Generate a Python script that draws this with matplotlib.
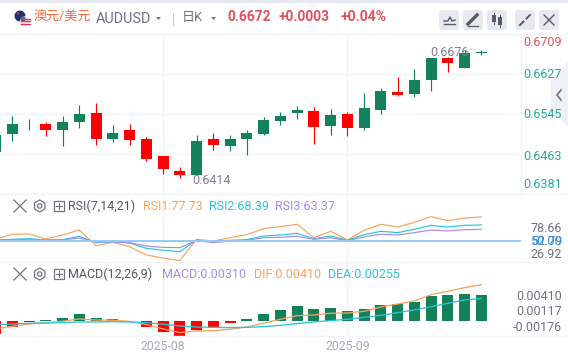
import matplotlib
matplotlib.use("Agg")
import matplotlib.pyplot as plt
from matplotlib.patches import FancyBboxPatch, Circle, Polygon, Rectangle, RegularPolygon

plt.rcParams['font.family'] = ['Roboto', 'Noto Sans CJK SC', 'DejaVu Sans']

W, H = 568, 357
# Daily candles, oldest first
opens = [.64671,.65040,.65245,.65245,.65122,.65286,.65471,.64938,.65122,.64938,.64589,.64282,.64200,.64938,.64794,.64938,.65040,.65307,.65471,.65512,.65204,.65450,.65163,.65532,.65901,.65860,.66147,.66598,.66393,.66701]
closes =[.65020,.65245,.65255,.65122,.65286,.65450,.64938,.65061,.64917,.64528,.64323,.64200,.64897,.64815,.64938,.65061,.65327,.65409,.65532,.65184,.65430,.65163,.65573,.65922,.65840,.66147,.66598,.66496,.66701,.66721]
highs = [.65061,.65409,.65348,.65286,.65409,.65635,.65676,.65225,.65245,.64979,.64589,.64364,.65020,.65061,.65020,.65122,.65389,.65491,.65614,.65594,.65553,.65491,.65881,.65983,.66209,.66373,.66598,.66619,.66762,.66762]
lows =  [.64671,.64897,.65122,.64999,.64794,.65163,.64815,.64876,.64815,.64487,.64220,.64138,.64200,.64712,.64692,.64610,.65020,.65225,.65348,.64835,.65020,.64999,.65122,.65450,.65819,.65799,.65922,.66311,.66393,.66660]

rsi1 = [51.9,57.7,58.0,52.3,56.9,62.6,44.6,48.5,43.5,33.9,30.4,27.4,51.9,50.0,53.8,57.3,64.2,66.5,69.2,53.8,61.1,51.2,62.3,69.2,66.1,71.5,78.0,73.4,76.4,77.73]
rsi2 = [51.2,51.9,52.7,51.2,51.5,55.4,48.1,49.2,47.7,41.6,39.3,37.7,51.2,48.9,50.8,51.5,55.7,56.9,58.8,52.7,55.7,50.8,57.3,61.1,59.6,63.4,68.0,66.1,68.0,68.39]
rsi3 = [51.2,51.5,51.5,50.8,51.2,53.4,48.9,49.2,48.1,44.2,42.7,42.3,50.4,48.1,50.0,50.8,53.8,54.2,55.4,51.9,53.8,50.4,54.6,57.7,56.9,59.6,62.6,61.5,63.0,63.37]

hist = [-.00143,-.00068,-.00011,.00008,.00034,.00079,.00034,.00023,.00004,-.00068,-.00125,-.00170,-.00102,-.00079,-.00023,.00023,.00079,.00125,.00170,.00136,.00147,.00113,.00136,.00181,.00192,.00215,.00283,.00294,.00306,.00296]
dif = [-.00090,-.00060,-.00034,-.00019,-.00004,.00023,.00011,.00008,-.00004,-.00041,-.00090,-.00132,-.00113,-.00109,-.00094,-.00068,-.00026,.00019,.00060,.00068,.00087,.00090,.00109,.00158,.00192,.00226,.00298,.00336,.00377,.00410]
dea = [-.00045,-.00034,-.00026,-.00023,-.00019,-.00011,-.00011,-.00008,-.00011,-.00019,-.00038,-.00057,-.00068,-.00072,-.00075,-.00072,-.00064,-.00049,-.00030,-.00011,.00004,.00019,.00041,.00064,.00094,.00124,.00162,.00200,.00238,.00255]

price_ticks = [0.6709, 0.6627, 0.6545, 0.6463, 0.6381]
date_ticks = [10, 21]
date_labels = ['2025-08', '2025-09']

UP, DOWN = '#13825a', '#ff0000'
GRID = '#f3f4f7'
ORANGE, CYAN, PURPLE = '#f7a35c', '#26c6da', '#a78bea'
GRAY = '#6f7380'

fig = plt.figure(figsize=(W/100, H/100), dpi=100, facecolor='white')

def panel(top, bottom):
    return fig.add_axes([0, 1-bottom/H, 520.7/W, (bottom-top)/H], facecolor='none')

ax_p = panel(34, 194)
ax_r = panel(194, 262)
ax_m = panel(262, 336)
x_lim = (0.266, 31.35)
for ax in (ax_p, ax_r, ax_m):
    ax.set_xlim(*x_lim)
    for s in ax.spines.values():
        s.set_visible(False)
    ax.set_xticks(date_ticks)
    ax.tick_params(length=0, labelbottom=False, labelleft=False)
    ax.grid(axis='x', color=GRID, lw=1)
    ax.set_axisbelow(True)

# Price panel
ax_p.set_ylim(0.6381, 0.6709)
ax_p.set_yticks(price_ticks)
ax_p.grid(axis='y', color=GRID, lw=1)
for i, (o, c, h, l) in enumerate(zip(opens, closes, highs, lows)):
    col = UP if c >= o else DOWN
    ax_p.vlines(i, l, h, color=col, lw=0.85, zorder=2)
    ax_p.bar(i, max(abs(c-o), 0.00006), bottom=min(o, c), width=0.657, color=col, zorder=3)

# RSI panel
xs = list(range(len(rsi1)))
ax_r.set_ylim(25.85, 104)
ax_r.set_yticks([])
for vals, col in ((rsi1, ORANGE), (rsi2, CYAN), (rsi3, PURPLE)):
    ax_r.plot(xs, vals, color=col, lw=0.85, zorder=3)
ax_r.axhline(50, color='#90caf9', lw=1.4, zorder=4)

# MACD panel
ax_m.set_ylim(-.0017, .00667)
ax_m.set_yticks([])
ax_m.bar(xs, hist, width=0.657, color=[UP if v >= 0 else DOWN for v in hist], zorder=2)
ax_m.plot(xs, dif, color=ORANGE, lw=0.95, zorder=3)
ax_m.plot(xs, dea, color=CYAN, lw=0.95, zorder=3)
ax_m.set_xticklabels(date_labels)
ax_m.tick_params(axis='x', labelbottom=True, labelcolor='#a9abb8', labelsize=8.8, pad=3)

# Overlay in pixel coordinates for the page furniture
ov = fig.add_axes([0, 0, 1, 1], facecolor='none', zorder=10)
ov.set_xlim(0, W); ov.set_ylim(H, 0); ov.axis('off')

def t(x, y, s, col, ha='left', size=9.0, **kw):
    ov.text(x, y, s, color=col, ha=ha, va='center', fontsize=size, **kw)

ov.add_patch(Rectangle((0, 0), W, 3, color='#e6e9f0', lw=0))
for yy in (34, 194, 262, 336):
    ov.plot([0, W], [yy, yy], color=GRID, lw=1, zorder=0)
ov.plot([520.7, 520.7], [34, 194], color=GRID, lw=1, zorder=0)

# Flags
ov.add_patch(Circle((20, 16), 5.5, color='#232f6e', lw=0))
ov.add_patch(Circle((18, 13.5), 1.2, color='#d9344a', lw=0))
ov.add_patch(Circle((25, 21.5), 5.2, color='#e8e8ee', lw=0))
for yy in (18.5, 21, 23.5):
    ov.plot([20.8, 29.6], [yy, yy], color='#d9344a', lw=0.9)
ov.add_patch(Circle((23, 19), 2.5, color='#5a6690', lw=0))

# Header
t(34, 17, '澳元/美元', '#f5683a', size=9.4)
t(96, 19, 'AUDUSD', GRAY, size=10.4)
ov.add_patch(Polygon([[156, 17], [161, 17], [158.5, 20]], color=GRAY, lw=0))
ov.plot([172.5, 172.5], [13, 25], color='#c9ccd4', lw=0.8)
t(182, 17, '日K', GRAY, size=9.4)
ov.add_patch(Polygon([[211, 17], [216, 17], [213.5, 20]], color=GRAY, lw=0))
RED = '#e0505c'
t(227, 17, '0.6672', RED, size=9.9, fontweight='bold')
t(279, 17, '+0.0003', RED, size=9.9, fontweight='bold')
t(341, 17, '+0.04%', RED, size=10.1, fontweight='bold')

# Toolbar buttons
for x0 in (439, 463, 487, 515, 539):
    ov.add_patch(FancyBboxPatch((x0+2, 12), 16, 16, boxstyle='round,pad=2,rounding_size=3',
                                fc='#e7e9ef', ec='none'))
ic = '#585c68'
ov.plot([444, 448, 450, 452, 455], [21, 21, 17, 21, 20], color=ic, lw=1)
ov.plot([444, 455], [24, 24], color=ic, lw=1)
ov.plot([468, 477], [24, 15], color=ic, lw=2.4)
ov.plot([468, 478], [26, 26], color=ic, lw=0.9)
ov.add_patch(Rectangle((492, 15), 3.5, 7, color=ic, lw=0))
ov.add_patch(Rectangle((498, 17), 3.5, 8, color=ic, lw=0))
ov.plot([493.7, 493.7], [13, 24], color=ic, lw=0.7)
ov.plot([499.7, 499.7], [15, 27], color=ic, lw=0.7)
ov.plot([520, 523.5], [25, 21.5], color=ic, lw=1.4)
ov.plot([530, 526.5], [15, 18.5], color=ic, lw=1.4)
ov.plot([544, 554], [15, 25], color=ic, lw=1)
ov.plot([554, 544], [15, 25], color=ic, lw=1)

# Collapse tab
ov.add_patch(Polygon([[551, 80], [568, 62], [568, 127], [551, 110]], color='#eff0f4', lw=0))
ov.plot([561, 557, 561], [90, 95, 100], color=GRAY, lw=1.2)

# Price axis labels
for yy, s, col in ((43, '0.6709', RED), (75, '0.6627', '#1fae94'), (115, '0.6545', '#1fae94'),
                   (156, '0.6463', '#1fae94'), (185, '0.6381', '#1fae94')):
    t(562, yy, s, col, ha='right')
t(430, 52, '0.6676', '#7f828e')
t(468, 50, '····', '#7f828e', size=6)
t(192, 180, '0.6414', '#7f828e')
t(180, 176, '····', '#7f828e', size=6)

# Indicator legends
def controls(y):
    ov.plot([14, 26], [y-6, y+6], color=GRAY, lw=0.9)
    ov.plot([26, 14], [y-6, y+6], color=GRAY, lw=0.9)
    ov.add_patch(RegularPolygon((39.7, y), 6, radius=6, fc='none', ec=GRAY, lw=0.9))
    ov.add_patch(Circle((39.7, y), 2.2, fc='none', ec=GRAY, lw=0.9))
    ov.add_patch(Rectangle((54, y-5), 9.5, 10, fc='none', ec=GRAY, lw=0.9))
    ov.plot([56, 61.5], [y, y], color=GRAY, lw=0.8)
    ov.plot([58.8, 58.8], [y-3, y+3], color=GRAY, lw=0.8)

controls(206)
t(68, 206, 'RSI(7,14,21)', '#555862')
t(143, 206, 'RSI1:77.73', ORANGE)
t(209, 206, 'RSI2:68.39', CYAN)
t(275, 206, 'RSI3:63.37', PURPLE)
controls(274)
t(68, 274, 'MACD(12,26,9)', '#555862')
t(162, 274, 'MACD:0.00310', PURPLE)
t(254, 274, 'DIF:0.00410', ORANGE)
t(328, 274, 'DEA:0.00255', CYAN)

# Indicator axis labels
t(562, 228, '78.66', GRAY, ha='right')
t(562, 241.5, '52.79', GRAY, ha='right')
t(562, 241.5, '50.00', '#2196f3', ha='right')
t(562, 255, '26.92', GRAY, ha='right')
t(562, 296.7, '0.00410', GRAY, ha='right')
t(562, 311.7, '0.00117', GRAY, ha='right')
t(562, 327.7, '-0.00176', GRAY, ha='right')

fig.savefig('out.png', dpi=100)
